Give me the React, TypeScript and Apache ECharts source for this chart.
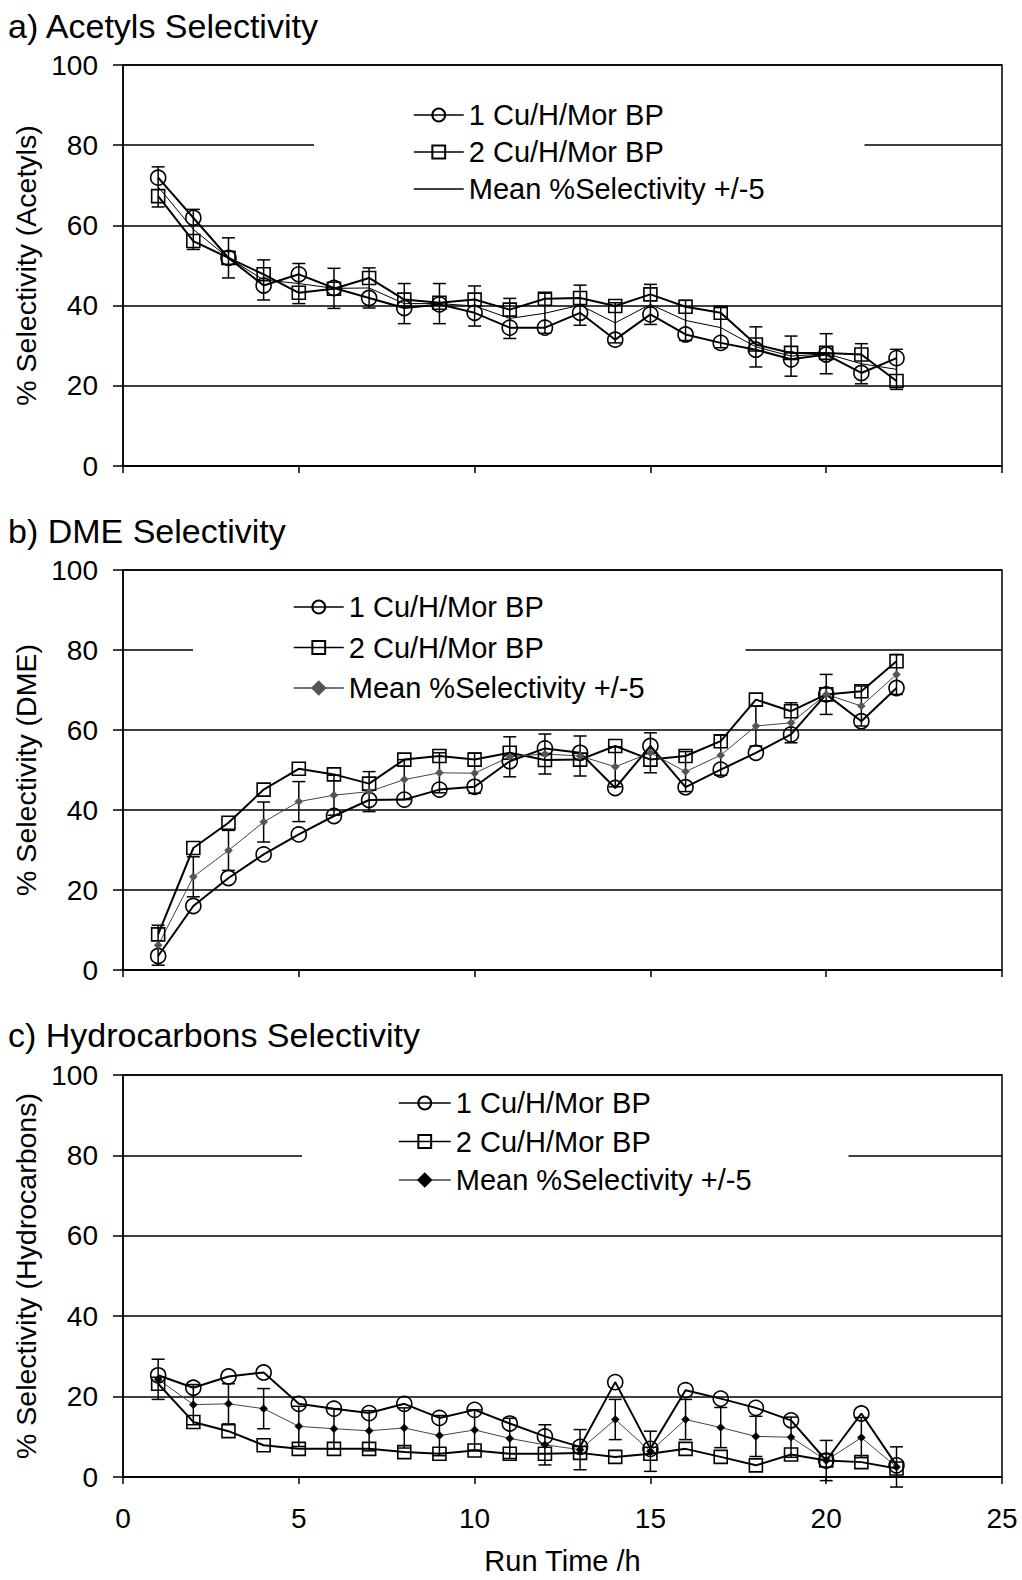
import React, { useEffect, useRef } from "react";
import * as echarts from "echarts";

const FONT = "'Liberation Sans', Arial, sans-serif";

const runTime = [1, 2, 3, 4, 5, 6, 7, 8, 9, 10, 11, 12, 13, 14, 15, 16, 17, 18, 19, 20, 21, 22];
const ERR = 5;

const panelTitles = ["a) Acetyls Selectivity", "b) DME Selectivity", "c) Hydrocarbons Selectivity"];
const yNames = ["% Selectivity (Acetyls)", "% Selectivity (DME)", "% Selectivity (Hydrocarbons)"];
const xName = "Run Time /h";
const legendLabels = ["1 Cu/H/Mor BP", "2 Cu/H/Mor BP", "Mean %Selectivity +/-5"];

// a) Acetyls
const acetyls1 = [71.9, 61.9, 51.9, 45.0, 47.8, 44.4, 41.9, 39.4, 40.3, 38.2, 34.5, 34.5, 38.2, 31.5, 37.8, 32.8, 30.7, 29.0, 26.6, 27.8, 23.2, 26.9];
const acetyls2 = [67.3, 56.1, 51.9, 47.8, 43.2, 44.2, 46.9, 41.5, 40.7, 41.5, 39.0, 41.7, 41.9, 39.9, 42.8, 39.7, 38.2, 30.3, 28.2, 28.2, 27.8, 21.2];
const acetylsMean = [69.6, 59.0, 51.9, 46.4, 45.5, 44.3, 44.4, 40.5, 40.5, 39.9, 36.8, 38.1, 40.1, 35.7, 40.3, 36.3, 34.5, 29.7, 27.4, 28.0, 25.5, 24.1];

// b) DME
const dme1 = [3.5, 16.0, 23.0, 28.9, 33.9, 38.5, 42.5, 42.6, 45.1, 45.8, 52.2, 55.4, 54.3, 45.5, 56.0, 45.7, 50.1, 54.3, 58.9, 68.9, 62.2, 70.5];
const dme2 = [8.9, 30.5, 36.8, 45.1, 50.3, 48.9, 46.6, 52.6, 53.5, 52.6, 54.3, 52.5, 52.6, 56.0, 52.6, 53.5, 57.2, 67.6, 64.7, 68.9, 69.7, 77.2];
const dmeMean = [6.2, 23.3, 29.9, 37.0, 42.1, 43.7, 44.6, 47.6, 49.3, 49.2, 53.3, 54.0, 53.5, 50.8, 54.3, 49.6, 53.7, 61.0, 61.8, 68.9, 66.0, 73.9];

// c) Hydrocarbons
const hc1 = [25.3, 22.2, 25.0, 26.0, 18.2, 17.0, 15.9, 18.2, 14.7, 16.7, 13.3, 10.1, 7.5, 23.6, 7.0, 21.6, 19.5, 17.2, 14.1, 4.1, 15.8, 2.9];
const hc2 = [23.2, 13.7, 11.4, 7.9, 7.0, 7.0, 7.0, 6.2, 5.8, 6.6, 5.8, 5.8, 6.0, 5.0, 5.8, 7.0, 5.0, 2.9, 5.6, 4.1, 3.7, 2.1];
const hcMean = [24.3, 18.0, 18.2, 17.0, 12.6, 12.0, 11.5, 12.2, 10.3, 11.7, 9.6, 8.0, 6.8, 14.3, 6.4, 14.3, 12.3, 10.1, 9.9, 4.1, 9.8, 2.5];

const panels = [
  { s1: acetyls1, s2: acetyls2, mean: acetylsMean },
  { s1: dme1, s2: dme2, mean: dmeMean },
  { s1: hc1, s2: hc2, mean: hcMean },
];

const gridLayout = [
  { left: 123, top: 65, width: 879, height: 401 },
  { left: 123, top: 570, width: 879, height: 400 },
  { left: 123, top: 1075, width: 879, height: 402 },
];
const titleTops = [9, 514, 1018];
const legendLayout = [
  { left: 314, top: 96, gap: 7, padL: 99, padR: 100, w: 50 },
  { left: 193, top: 588, gap: 10.5, padL: 100, padR: 101, w: 50 },
  { left: 302, top: 1084, gap: 8.5, padL: 96, padR: 97, w: 52 },
];

function buildOption() {
  const grid: any[] = [];
  const xAxis: any[] = [];
  const yAxis: any[] = [];
  const series: any[] = [];
  const legend: any[] = [];
  const title: any[] = [];
  const nameMap: Record<string, string> = {};

  panels.forEach((p, i) => {
    grid.push({
      ...gridLayout[i],
      containLabel: false,
      outerBoundsMode: "none",
      show: true,
      borderColor: "#000",
      borderWidth: 1.5,
      backgroundColor: "transparent",
    });
    title.push({
      text: panelTitles[i],
      left: 8,
      top: titleTops[i],
      padding: 0,
      textStyle: { fontSize: 34, fontWeight: "normal", color: "#000", fontFamily: FONT },
    });
    xAxis.push({
      type: "value",
      gridIndex: i,
      min: 0,
      max: 25,
      interval: 5,
      axisLine: { show: true, onZero: false, lineStyle: { color: "#000", width: 1.5 } },
      axisTick: { show: true, length: 7, lineStyle: { color: "#000", width: 1.5 } },
      splitLine: { show: false },
      axisLabel: { show: i === 2, fontSize: 28, color: "#000", margin: 27, fontFamily: FONT },
      name: i === 2 ? xName : "",
      nameLocation: "middle",
      nameGap: 69,
      nameTextStyle: { fontSize: 29, color: "#000", fontFamily: FONT },
    });
    yAxis.push({
      type: "value",
      gridIndex: i,
      min: 0,
      max: 100,
      interval: 20,
      axisLine: { show: true, lineStyle: { color: "#000", width: 1.5 } },
      axisTick: { show: true, length: 10, lineStyle: { color: "#000", width: 1.5 } },
      splitLine: { show: true, lineStyle: { color: "#000", width: 1.5 } },
      axisLabel: { fontSize: 28, color: "#000", margin: 25, fontFamily: FONT },
      name: yNames[i],
      nameLocation: "middle",
      nameGap: 81,
      nameTextStyle: { fontSize: 28.5, color: "#000", fontFamily: FONT },
    });

    const ids = ["p" + i + "s1", "p" + i + "s2", "p" + i + "m"];
    ids.forEach((id, k) => (nameMap[id] = legendLabels[k]));

    series.push({
      type: "custom",
      name: "p" + i + "err",
      xAxisIndex: i,
      yAxisIndex: i,
      z: 3,
      silent: true,
      encode: { x: 0, y: [1, 2] },
      data: runTime.map((t, k) => [t, p.mean[k] - ERR, p.mean[k] + ERR]),
      renderItem: (params: any, api: any) => {
        const x = api.value(0);
        const hi = api.coord([x, api.value(2)]);
        const lo = api.coord([x, api.value(1)]);
        const w = 6.5;
        const st = { stroke: "#000", lineWidth: 1.5 };
        return {
          type: "group",
          children: [
            { type: "line", shape: { x1: hi[0], y1: hi[1], x2: lo[0], y2: lo[1] }, style: st },
            { type: "line", shape: { x1: hi[0] - w, y1: hi[1], x2: hi[0] + w, y2: hi[1] }, style: st },
            { type: "line", shape: { x1: lo[0] - w, y1: lo[1], x2: lo[0] + w, y2: lo[1] }, style: st },
          ],
        };
      },
    });

    series.push({
      type: "line",
      name: ids[0],
      xAxisIndex: i,
      yAxisIndex: i,
      data: runTime.map((t, k) => [t, p.s1[k]]),
      symbol: "circle",
      symbolSize: 15,
      itemStyle: { color: "rgba(0,0,0,0)", borderColor: "#000", borderWidth: 1.6 },
      lineStyle: { color: "#000", width: 2 },
      z: 4,
    });
    series.push({
      type: "line",
      name: ids[1],
      xAxisIndex: i,
      yAxisIndex: i,
      data: runTime.map((t, k) => [t, p.s2[k]]),
      symbol: "rect",
      symbolSize: 13,
      itemStyle: { color: "rgba(0,0,0,0)", borderColor: "#000", borderWidth: 1.6 },
      lineStyle: { color: "#000", width: 2 },
      z: 4,
    });
    const meanColor = i === 1 ? "#555" : "#000";
    series.push({
      type: "line",
      name: ids[2],
      xAxisIndex: i,
      yAxisIndex: i,
      data: runTime.map((t, k) => [t, p.mean[k]]),
      symbol: i === 0 ? "circle" : "diamond",
      symbolSize: i === 0 ? 0 : 8,
      showSymbol: i !== 0,
      itemStyle:
        i === 0
          ? { color: "rgba(0,0,0,0)", borderWidth: 0 }
          : { color: meanColor, borderColor: meanColor, borderWidth: 0.5 },
      lineStyle: { color: i === 0 ? "#000" : "#444", width: 1 },
      z: 4,
    });

    const L = legendLayout[i];
    legend.push({
      orient: "vertical",
      left: L.left,
      top: L.top,
      padding: [4, L.padR, 4, L.padL],
      itemGap: L.gap,
      itemWidth: L.w,
      itemHeight: 16,
      backgroundColor: "#fff",
      z: 1,
      selectedMode: false,
      data: ids,
      formatter: (name: string) => nameMap[name],
      textStyle: { fontSize: 29, color: "#000", lineHeight: 30, fontFamily: FONT },
      lineStyle: { width: 1.5 },
    });
  });

  return {
    animation: false,
    backgroundColor: "#fff",
    textStyle: { fontFamily: FONT },
    title,
    grid,
    xAxis,
    yAxis,
    legend,
    series,
  };
}

export default function App() {
  const ref = useRef<HTMLDivElement>(null);
  useEffect(() => {
    const chart = echarts.init(ref.current!, null, { renderer: "svg" });
    chart.setOption(buildOption() as any);
    return () => chart.dispose();
  }, []);
  return (
    <div
      ref={ref}
      style={{ position: "absolute", left: 0, top: 0, width: 1022, height: 1580, background: "#fff" }}
    />
  );
}
